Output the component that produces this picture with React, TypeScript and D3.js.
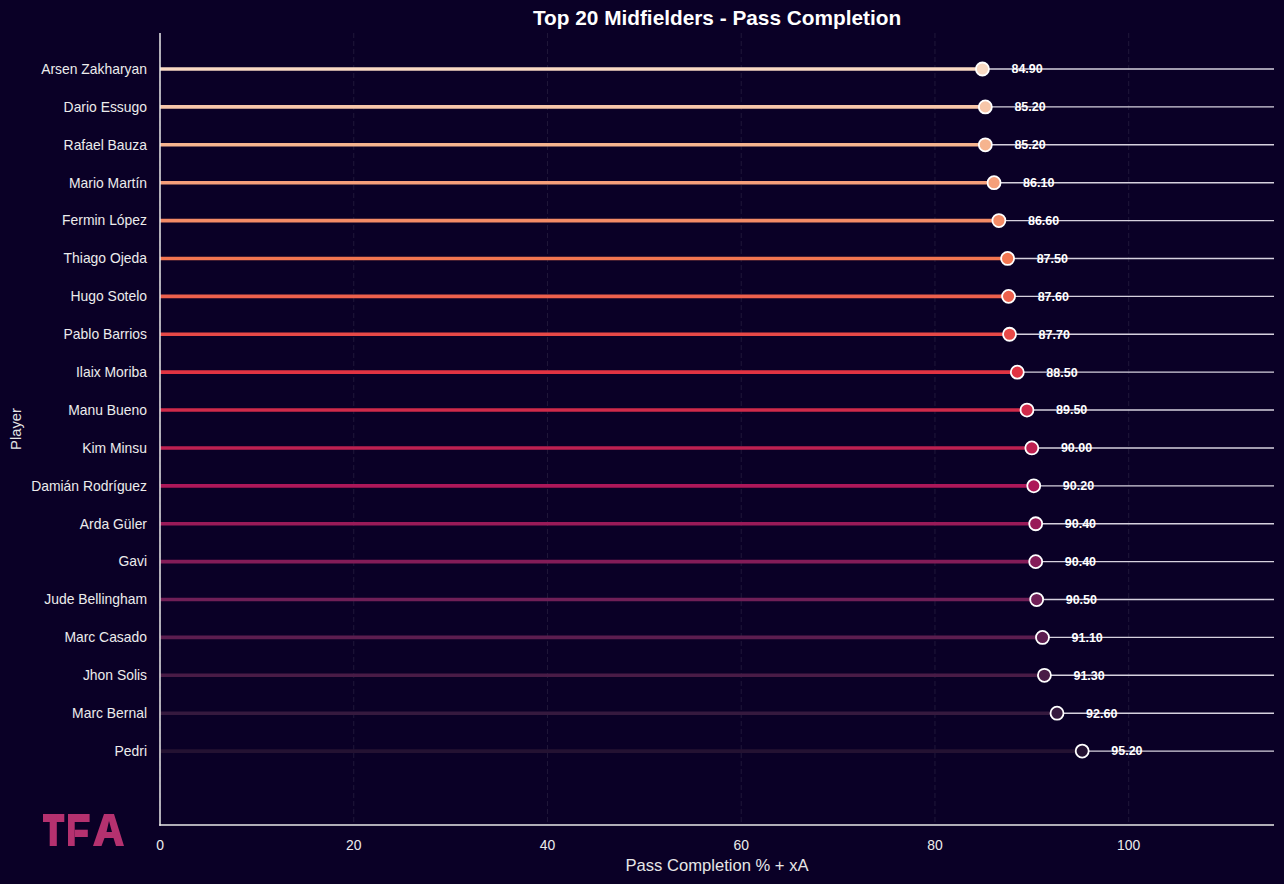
import React from "react";
import * as d3 from "d3";

// Players ordered top to bottom, with their pass completion % + xA
const players = [
  "Arsen Zakharyan", "Dario Essugo", "Rafael Bauza", "Mario Martín", "Fermin López",
  "Thiago Ojeda", "Hugo Sotelo", "Pablo Barrios", "Ilaix Moriba", "Manu Bueno",
  "Kim Minsu", "Damián Rodríguez", "Arda Güler", "Gavi", "Jude Bellingham",
  "Marc Casado", "Jhon Solis", "Marc Bernal", "Pedri",
];
const values = [
  84.9, 85.2, 85.2, 86.1, 86.6,
  87.5, 87.6, 87.7, 88.5, 89.5,
  90.0, 90.2, 90.4, 90.4, 90.5,
  91.1, 91.3, 92.6, 95.2,
];
const xTicks = [0, 20, 40, 60, 80, 100];

// Rocket colormap anchor points
const rocketStops = ["#03051a", "#35193e", "#701f57", "#ad1759", "#e13342", "#f37651", "#f6b48f", "#faebdd"];

const W = 1284;
const H = 884;
const BG = "#0a0026";
const FONT = "'Liberation Sans', Arial, Helvetica, sans-serif";

export default function App() {
  const left = 160, right = 1274, top = 33, bottom = 825;
  const x = d3.scaleLinear().domain([0, 115]).range([left, right]);
  const y = d3.scaleLinear().domain([-0.95, 19.95]).range([top, bottom]);
  const rocket = d3
    .scaleLinear<string>()
    .domain(rocketStops.map((_, i) => i / (rocketStops.length - 1)))
    .range(rocketStops)
    .interpolate(d3.interpolateRgb);
  const nSlots = 20;
  const colorAt = (i: number) => rocket(1 - (i + 1) / (nSlots + 1));

  return (
    <>
      <style>{`body{margin:0;background:${BG};}`}</style>
      <svg width={W} height={H} style={{ display: "block", background: BG }} fontFamily={FONT}>
        <rect x={0} y={0} width={W} height={H} fill={BG} />

        {/* dashed vertical grid */}
        {xTicks.map((t) => (
          <line key={`g${t}`} x1={x(t)} x2={x(t)} y1={top} y2={bottom}
            stroke="#ffffff" strokeOpacity={0.09} strokeWidth={1} strokeDasharray="5,3" />
        ))}

        {/* lollipops */}
        {players.map((p, i) => {
          const v = values[i];
          const cy = y(i);
          const c = colorAt(i);
          return (
            <g key={p}>
              <line x1={x(v)} x2={right} y1={cy} y2={cy} stroke="#d6d1de" strokeWidth={1.4} />
              <line x1={x(0)} x2={x(v)} y1={cy} y2={cy} stroke={c} strokeWidth={3.6} />
              <circle cx={x(v)} cy={cy} r={6.5} fill={c} stroke="#ffffff" strokeWidth={1.8} />
              <text x={x(v + 3)} y={cy} dy="0.35em" fill="#ffffff" fontSize={12.5} fontWeight="bold">
                {v.toFixed(2)}
              </text>
              <text x={147} y={cy} dy="0.35em" textAnchor="end" fill="#ececec" fontSize={13.9}>
                {p}
              </text>
            </g>
          );
        })}

        {/* spines */}
        <line x1={left} x2={left} y1={top} y2={bottom + 0.75} stroke="#e8e8e8" strokeWidth={1.5} />
        <line x1={left - 0.75} x2={right} y1={bottom} y2={bottom} stroke="#e8e8e8" strokeWidth={1.5} />

        {/* x tick labels */}
        {xTicks.map((t) => (
          <text key={`t${t}`} x={x(t)} y={850} textAnchor="middle" fill="#ececec" fontSize={13.9}>
            {t}
          </text>
        ))}

        {/* axis labels and title */}
        <text x={(left + right) / 2} y={871} textAnchor="middle" fill="#e6e6e6" fontSize={16.6}>
          Pass Completion % + xA
        </text>
        <text transform={`translate(21,${(top + bottom) / 2}) rotate(-90)`} textAnchor="middle" fill="#e6e6e6" fontSize={14.8}>
          Player
        </text>
        <text x={(left + right) / 2} y={25} textAnchor="middle" fill="#ffffff" fontSize={20.8} fontWeight="bold">
          Top 20 Midfielders - Pass Completion
        </text>

        {/* TFA mark */}
        <g fill="#b5316f">
          <rect x={43} y={814} width={21.3} height={8} />
          <rect x={49.7} y={814} width={7.1} height={32} />
          <rect x={68} y={814} width={6.7} height={32} />
          <rect x={68} y={814} width={21.6} height={8} />
          <rect x={74.7} y={829.7} width={13.1} height={7.3} />
          <path fillRule="evenodd"
            d="M104,814 L114,814 L124,846 L116,846 L113.5,838 L104.5,838 L101.5,846 L93,846 Z M109,821 L112,832 L106.5,832 Z" />
          <path d="M104.5,838 L113.5,838 L111,843 L106.5,843 Z" fill={BG} opacity={0} />
        </g>
      </svg>
    </>
  );
}
